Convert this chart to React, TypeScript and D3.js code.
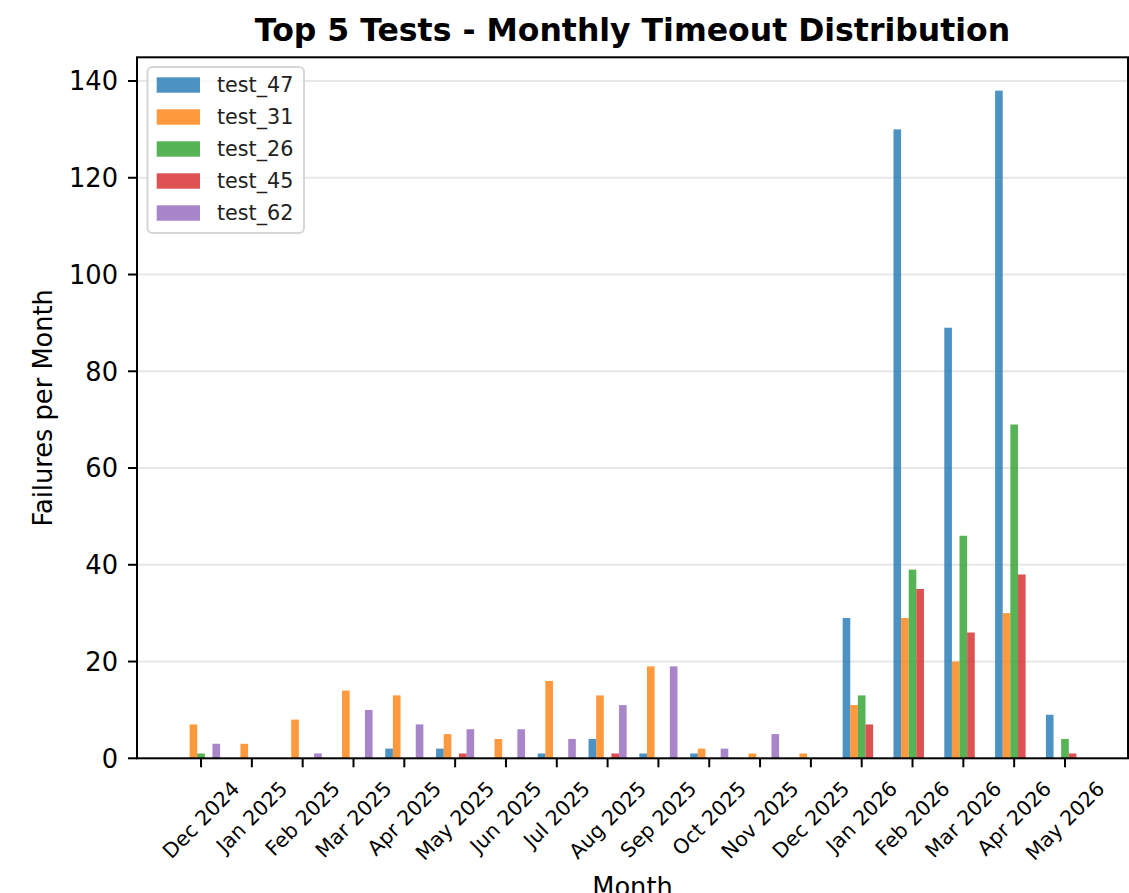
import React, { useEffect, useRef } from 'react'
import * as d3 from 'd3'

// chart data
const months = [
  'Dec 2024', 'Jan 2025', 'Feb 2025', 'Mar 2025', 'Apr 2025', 'May 2025',
  'Jun 2025', 'Jul 2025', 'Aug 2025', 'Sep 2025', 'Oct 2025', 'Nov 2025',
  'Dec 2025', 'Jan 2026', 'Feb 2026', 'Mar 2026', 'Apr 2026', 'May 2026',
]
const seriesNames = ['test_47', 'test_31', 'test_26', 'test_45', 'test_62']
const seriesColors = ['#1f77b4', '#ff7f0e', '#2ca02c', '#d62728', '#9467bd']
const test47 = [0, 0, 0, 0, 2, 2, 0, 1, 4, 1, 1, 0, 0, 29, 130, 89, 138, 9]
const test31 = [7, 3, 8, 14, 13, 5, 4, 16, 13, 19, 2, 1, 1, 11, 29, 20, 30, 0]
const test26 = [1, 0, 0, 0, 0, 0, 0, 0, 0, 0, 0, 0, 0, 13, 39, 46, 69, 4]
const test45 = [0, 0, 0, 0, 0, 1, 0, 0, 1, 0, 0, 0, 0, 7, 35, 26, 38, 1]
const test62 = [3, 0, 1, 10, 7, 6, 6, 4, 11, 19, 2, 5, 0, 0, 0, 0, 0, 0]
const yTicks = [0, 20, 40, 60, 80, 100, 120, 140]

const seriesValues = [test47, test31, test26, test45, test62]

const W = 1129
const H = 893
const FONT = 'DejaVu Sans, sans-serif'

export default function App() {
  const ref = useRef<SVGSVGElement>(null)

  useEffect(() => {
    const svg = d3.select(ref.current)
    svg.selectAll('*').remove()

    const left = 137, right = 1128, top = 57.3, bottom = 758.3
    const barW = 0.15

    const x = d3.scaleLinear().domain([-1.26, 18.24]).range([left, right])
    const yMax = d3.max(seriesValues.flat()) * 1.05
    const y = d3.scaleLinear().domain([0, yMax]).range([bottom, top])

    // grid
    svg.append('g')
      .selectAll('line')
      .data(yTicks)
      .enter().append('line')
      .attr('x1', left).attr('x2', right)
      .attr('y1', (d) => y(d)).attr('y2', (d) => y(d))
      .style('stroke', '#b0b0b0')
      .style('stroke-opacity', 0.3)
      .style('stroke-width', 2)

    // bars
    seriesValues.forEach((vals, k) => {
      svg.append('g')
        .selectAll('rect')
        .data(vals)
        .enter().append('rect')
        .attr('x', (_, i) => x(i + (k - 2) * barW - barW / 2))
        .attr('width', x(barW) - x(0))
        .attr('y', (d) => y(d))
        .attr('height', (d) => bottom - y(d))
        .style('fill', seriesColors[k])
        .style('fill-opacity', 0.8)
    })

    // spines
    svg.append('rect')
      .attr('x', left).attr('y', top)
      .attr('width', right - left).attr('height', bottom - top)
      .style('fill', 'none')
      .style('stroke', '#000')
      .style('stroke-width', 2)

    // y axis ticks + labels
    const yt = svg.append('g')
    yt.selectAll('line')
      .data(yTicks)
      .enter().append('line')
      .attr('x1', left - 9).attr('x2', left)
      .attr('y1', (d) => y(d)).attr('y2', (d) => y(d))
      .style('stroke', '#000').style('stroke-width', 2)
    yt.selectAll('text')
      .data(yTicks)
      .enter().append('text')
      .attr('x', left - 19)
      .attr('y', (d) => y(d))
      .attr('dy', '0.36em')
      .attr('text-anchor', 'end')
      .style('font-family', FONT)
      .style('font-size', '25.7px')
      .text((d) => d)

    // x axis ticks + rotated labels
    const xt = svg.append('g')
    xt.selectAll('line')
      .data(months)
      .enter().append('line')
      .attr('x1', (_, i) => x(i)).attr('x2', (_, i) => x(i))
      .attr('y1', bottom).attr('y2', bottom + 9)
      .style('stroke', '#000').style('stroke-width', 2)
    const fs = 20.5
    xt.selectAll('text')
      .data(months)
      .enter().append('text')
      .attr('text-anchor', 'middle')
      .attr('dominant-baseline', 'central')
      .style('font-family', FONT)
      .style('font-size', fs + 'px')
      .text((d) => d)
      .attr('transform', function (_, i) {
        const len = (this as SVGTextElement).getComputedTextLength()
        const half = (len + fs * 0.95) / (2 * Math.SQRT2)
        return `translate(${x(i)}, ${bottom + 20 + half}) rotate(-45)`
      })

    // axis labels + title
    svg.append('text')
      .attr('x', (left + right) / 2).attr('y', 41)
      .attr('text-anchor', 'middle')
      .style('font-family', FONT)
      .style('font-size', '31.5px')
      .style('font-weight', 'bold')
      .text('Top 5 Tests - Monthly Timeout Distribution')

    svg.append('text')
      .attr('transform', `translate(52, ${(top + bottom) / 2}) rotate(-90)`)
      .attr('text-anchor', 'middle')
      .style('font-family', FONT)
      .style('font-size', '25.7px')
      .text('Failures per Month')

    svg.append('text')
      .attr('x', (left + right) / 2).attr('y', 896)
      .attr('text-anchor', 'middle')
      .style('font-family', FONT)
      .style('font-size', '25.7px')
      .text('Month')

    // legend
    const lg = svg.append('g')
    lg.append('rect')
      .attr('x', 147.5).attr('y', 67)
      .attr('width', 156.5).attr('height', 166)
      .attr('rx', 5)
      .style('fill', '#fff').style('fill-opacity', 0.8)
      .style('stroke', '#d6d6d6').style('stroke-width', 2)
    const item = lg.selectAll('.legend-item')
      .data(seriesNames)
      .enter().append('g')
      .attr('class', 'legend-item')
      .attr('transform', (_, i) => `translate(0, ${i * 32})`)
    item.append('rect')
      .attr('x', 156.7).attr('y', 77.3)
      .attr('width', 43.3).attr('height', 15.4)
      .style('fill', (_, i) => seriesColors[i])
      .style('fill-opacity', 0.8)
    item.append('text')
      .attr('x', 217).attr('y', 85)
      .attr('dy', '0.36em')
      .style('font-family', FONT)
      .style('font-size', '20.7px')
      .style('fill', '#222')
      .text((d) => d)
  }, [])

  return (
    <svg
      ref={ref}
      width={W}
      height={H}
      style={{ position: 'absolute', left: 0, top: 0, background: '#fff' }}
    />
  )
}
